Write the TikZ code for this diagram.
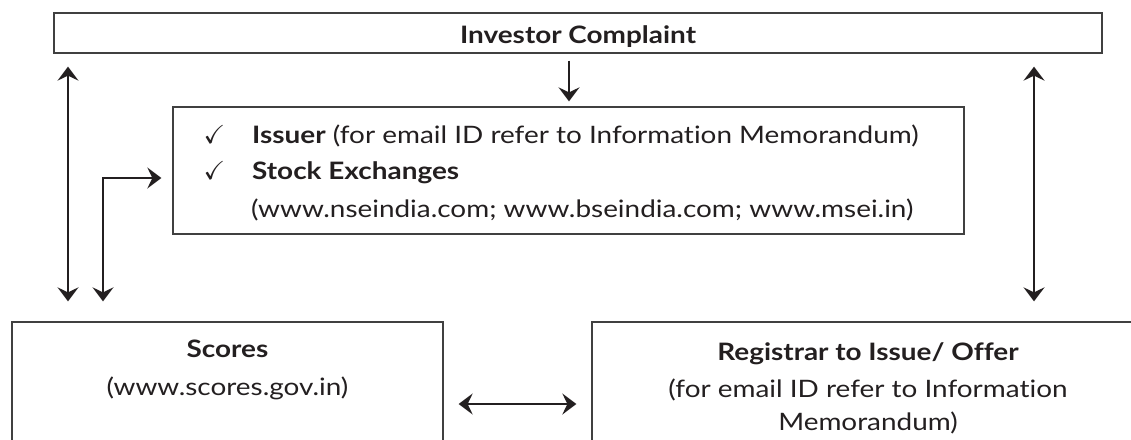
\documentclass[tikz,border=0pt]{standalone}
\usepackage{amssymb}
\usepackage{fontspec}
\setmainfont{Lato}[FakeStretch=1.163,Ligatures=NoCommon]
\usetikzlibrary{arrows.meta,calc}
\definecolor{ink}{HTML}{231F20}
\definecolor{boxline}{HTML}{404040}
\begin{document}
\begin{tikzpicture}[x=1pt,y=-1pt,
  box/.style={draw=boxline,line width=1.3pt,inner sep=0pt},
  txt/.style={text=ink,inner sep=0pt,font=\fontsize{24}{28}\selectfont},
  txtb/.style={text=ink,inner sep=0pt,font=\fontsize{24}{28}\selectfont\bfseries},
  chk/.style={text=ink,inner sep=0pt,font=\fontsize{26}{30}\selectfont},
  tip/.tip={Stealth[length=14pt,width=21pt,inset=5pt]},
  arr/.style={draw=ink,line width=2pt,-tip},
  dbl/.style={draw=ink,line width=2pt,tip-tip},
]
\useasboundingbox (0,0) rectangle (1131,439);
\clip (0,0) rectangle (1131,439);

% boxes
\node[box,minimum width=1048pt,minimum height=40pt] (ic) at (578,33) {};
\node[box,minimum width=791pt,minimum height=127pt] (mid) at (568.5,170.5) {};
\node[box,minimum width=431pt,minimum height=148pt] (sc) at (227.5,396) {};
\node[box,minimum width=558pt,minimum height=148pt] (rg) at (871,396) {};

% texts
\node[txtb,anchor=base] (ict) at (578,43) {Investor Complaint};
\node[chk,anchor=base] (ck1) at (214.5,143) {$\checkmark$};
\node[txt,anchor=base west] (iss) at (252,143) {\textbf{Issuer} (for email ID refer to Information Memorandum)};
\node[chk,anchor=base] (ck2) at (214.5,179) {$\checkmark$};
\node[txtb,anchor=base west] (se) at (252,179) {Stock Exchanges};
\node[txt,anchor=base west] (urls) at (251,217) {(www.nseindia.com; www.bseindia.com; www.msei.in)};
\node[txtb,anchor=base] (sct) at (227.5,357) {Scores};
\node[txt,anchor=base] (scu) at (227.5,395) {(www.scores.gov.in)};
\node[txtb,anchor=base] (rgt) at (868,360) {Registrar to Issue/ Offer};
\node[txt,anchor=base] (rg1) at (868,397) {(for email ID refer to Information};
\node[txt,anchor=base] (rg2) at (868,430) {Memorandum)};

% guide coordinates
\coordinate (xd) at (569,0);
\coordinate (xl) at (68,0);
\coordinate (xl2) at (103,0);
\coordinate (xr) at (1034,0);
\coordinate (ye) at (0,178);
\coordinate (yh) at (0,404);

% connectors
\draw[arr,shorten <=7pt,shorten >=5pt] (ic.south -| xd) -- (mid.north -| xd);
\draw[dbl,shorten <=13pt,shorten >=20pt] (ic.south -| xl) -- (sc.north -| xl);
\draw[dbl,shorten <=13pt,shorten >=20pt] (ic.south -| xr) -- (rg.north -| xr);
\draw[dbl,shorten <=11pt,shorten >=20pt] (mid.west |- ye) -| (sc.north -| xl2);
\draw[dbl,shorten <=15pt,shorten >=15pt] (sc.east |- yh) -- (rg.west |- yh);
\end{tikzpicture}
\end{document}
